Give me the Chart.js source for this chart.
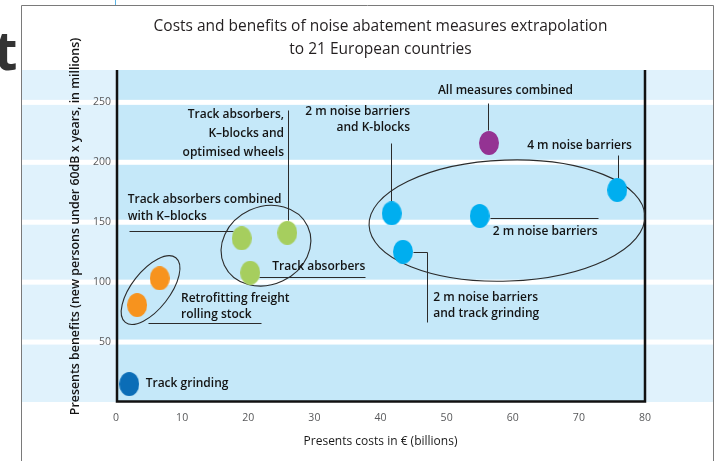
<!DOCTYPE html>
<html><head><meta charset="utf-8">
<script src="https://cdn.jsdelivr.net/npm/chart.js@4/dist/chart.umd.min.js"></script>
<style>html,body{margin:0;padding:0;background:#fff;}canvas{display:block;}</style>
</head><body>
<canvas id="c" width="716" height="461"></canvas>
<script>
// ---- Data ----
const titleLines = ["Costs and benefits of noise abatement measures extrapolation", "to 21 European countries"];
const xAxisTitle = "Presents costs in € (billions)";
const yAxisTitle = "Presents benefits (new persons under 60dB x years, in millions)";
const xTicks = [0, 10, 20, 30, 40, 50, 60, 70, 80];
const yTicks = [50, 100, 150, 200, 250];

const grindingCost = [2.0];
const grindingBenefit = [15.0];
const freightCost = [3.2, 6.6];
const freightBenefit = [80.9, 103.2];
const absorberCost = [19.0, 25.9, 20.3];
const absorberBenefit = [136.6, 141.2, 107.9];
const barrierCost = [41.7, 55.0, 75.8, 43.4];
const barrierBenefit = [157.4, 155.2, 176.9, 125.4];
const combinedCost = [56.4];
const combinedBenefit = [216.1];

// ---- Annotation text (positions in data units) ----
const labels = [
  {lines: ["All measures combined"], x: 58.9, y: 259.5, align: "center", gap: 16},
  {lines: ["2 m noise barriers", "and K-blocks"], x: 44.46, y: 241.9, align: "right", gap: 16},
  {lines: ["4 m noise barriers"], x: 70.1, y: 213.6, align: "center", gap: 16},
  {lines: ["2 m noise barriers"], x: 64.9, y: 142.1, align: "center", gap: 16},
  {lines: ["2 m noise barriers", "and track grinding"], x: 47.98, y: 87.4, align: "left", gap: 16.7},
  {lines: ["Track absorbers,", "K–blocks and", "optimised wheels"], x: 25.41, y: 239.4, align: "right", gap: 19},
  {lines: ["Track absorbers combined", "with K–blocks"], x: 1.77, y: 168.5, align: "left", gap: 16.7},
  {lines: ["Track absorbers"], x: 23.64, y: 112.9, align: "left", gap: 16},
  {lines: ["Retrofitting freight", "rolling stock"], x: 9.83, y: 86.5, align: "left", gap: 16},
  {lines: ["Track grinding"], x: 4.49, y: 15.0, align: "left", gap: 16}
];
const leaders = [
  [[56.3, 249.7], [56.3, 227.0]],
  [[41.63, 215.8], [41.63, 167.1]],
  [[75.96, 206.1], [75.96, 186.9]],
  [[56.56, 153.8], [72.94, 153.8]],
  [[44.91, 125.4], [46.99, 125.4], [46.99, 67.0]],
  [[25.97, 243.6], [25.97, 151.8]],
  [[2.0, 142.9], [17.65, 142.9]],
  [[21.67, 104.5], [37.66, 104.5]],
  [[4.88, 65.66], [21.88, 65.66]]
];
const groupRings = [
  {x: 5.23, y: 93.4, rx: 41, ry: 19, rot: -52},
  {x: 22.68, y: 130.4, rx: 46, ry: 39, rot: -25},
  {x: 59.13, y: 151.4, rx: 138, ry: 60.5, rot: -2}
];

// ---- Styling ----
const FONT = '"Open Sans", "Noto Sans", sans-serif';
function dot(color) {
  const c = document.createElement('canvas');
  c.width = 20; c.height = 24;
  const g = c.getContext('2d');
  g.fillStyle = color;
  g.beginPath();
  g.ellipse(10, 12, 10, 12, 0, 0, Math.PI * 2);
  g.fill();
  return c;
}
function pts(xs, ys) { return xs.map((x, i) => ({x: x, y: ys[i]})); }

const decor = {
  id: 'decor',
  beforeDraw(chart) {
    const ctx = chart.ctx, a = chart.chartArea, ys = chart.scales.y;
    ctx.save();
    ctx.fillStyle = '#ffffff';
    ctx.fillRect(0, 0, chart.width, chart.height);
    // page remnants
    ctx.fillStyle = '#333333';
    ctx.font = 'bold 54px ' + FONT;
    ctx.textBaseline = 'alphabetic';
    ctx.textAlign = 'left';
    ctx.fillText('t', -6, 70);
    ctx.strokeStyle = '#5bb4e5';
    ctx.lineWidth = 1;
    ctx.beginPath(); ctx.moveTo(115.5, 0); ctx.lineTo(115.5, 5); ctx.stroke();
    // frame
    ctx.strokeStyle = '#7a7a7a';
    ctx.lineWidth = 1;
    ctx.beginPath();
    ctx.moveTo(21.5, chart.height); ctx.lineTo(21.5, 5.5); ctx.lineTo(713.5, 5.5); ctx.lineTo(713.5, chart.height);
    ctx.stroke();
    // light band and plot area
    ctx.fillStyle = '#e0f2fc';
    ctx.fillRect(22, a.top, 691, a.bottom - a.top);
    ctx.fillStyle = '#c5e8f9';
    ctx.fillRect(a.left, a.top, a.right - a.left, a.bottom - a.top);
    // white gridlines
    ctx.fillStyle = '#ffffff';
    yTicks.forEach(v => {
      const y = ys.getPixelForValue(v);
      ctx.fillRect(22, y - 2.5, 691, 5);
    });
    // axis frame lines
    ctx.strokeStyle = '#111111';
    ctx.lineWidth = 2.5;
    ctx.beginPath();
    ctx.moveTo(a.left + 1, a.top); ctx.lineTo(a.left + 1, a.bottom - 0.5);
    ctx.lineTo(a.right, a.bottom - 0.5); ctx.lineTo(a.right, a.top);
    ctx.stroke();
    ctx.restore();
  },
  beforeDatasetsDraw(chart) {
    const ctx = chart.ctx, xs = chart.scales.x, ys = chart.scales.y;
    ctx.save();
    ctx.strokeStyle = '#2b2b2b';
    ctx.lineWidth = 1.1;
    groupRings.forEach(r => {
      ctx.beginPath();
      ctx.ellipse(xs.getPixelForValue(r.x), ys.getPixelForValue(r.y), r.rx, r.ry, r.rot * Math.PI / 180, 0, Math.PI * 2);
      ctx.stroke();
    });
    ctx.lineWidth = 1;
    leaders.forEach(l => {
      ctx.beginPath();
      l.forEach((p, i) => {
        const px = Math.round(xs.getPixelForValue(p[0])) + 0.5;
        const py = Math.round(ys.getPixelForValue(p[1])) + 0.5;
        if (i === 0) ctx.moveTo(px, py); else ctx.lineTo(px, py);
      });
      ctx.stroke();
    });
    ctx.restore();
  },
  afterDatasetsDraw(chart) {
    const ctx = chart.ctx, xs = chart.scales.x, ys = chart.scales.y;
    ctx.save();
    ctx.fillStyle = '#141414';
    ctx.font = '600 12px ' + FONT;
    ctx.textBaseline = 'middle';
    labels.forEach(l => {
      ctx.textAlign = l.align;
      const x = xs.getPixelForValue(l.x), y = ys.getPixelForValue(l.y);
      l.lines.forEach((t, i) => ctx.fillText(t, x, y + i * l.gap));
    });
    // y axis title
    ctx.translate(75, 226.5);
    ctx.rotate(-Math.PI / 2);
    ctx.textAlign = 'center';
    ctx.font = '600 12.4px ' + FONT;
    ctx.fillText(yAxisTitle, 0, 0);
    ctx.restore();
  }
};

new Chart(document.getElementById('c'), {
  type: 'scatter',
  data: {
    datasets: [
      {label: 'Track grinding', data: pts(grindingCost, grindingBenefit), pointStyle: dot('#0b6db7')},
      {label: 'Retrofitting freight rolling stock', data: pts(freightCost, freightBenefit), pointStyle: dot('#f7931e')},
      {label: 'Track absorbers / K–blocks', data: pts(absorberCost, absorberBenefit), pointStyle: dot('#a6ce5e')},
      {label: 'Noise barriers', data: pts(barrierCost, barrierBenefit), pointStyle: dot('#00aeef')},
      {label: 'All measures combined', data: pts(combinedCost, combinedBenefit), pointStyle: dot('#943393')}
    ]
  },
  options: {
    responsive: false,
    animation: false,
    devicePixelRatio: 1,
    layout: {padding: {left: 0, right: 71, top: 0, bottom: 0}},
    plugins: {
      legend: {display: false},
      tooltip: {enabled: false},
      title: {
        display: true, fullSize: false,
        text: titleLines,
        color: '#231f20',
        font: {family: FONT, size: 15.5, weight: 'normal', lineHeight: '23px'},
        padding: {top: 15.5, bottom: 8.5}
      }
    },
    scales: {
      x: {
        type: 'linear', min: 0, max: 80,
        afterBuildTicks: s => { s.ticks = xTicks.map(v => ({value: v})); },
        afterFit: s => { s.height = 59; },
        grid: {display: false, drawTicks: false},
        border: {display: false},
        ticks: {color: '#58595b', font: {family: FONT, size: 10.5}, padding: 10, maxRotation: 0},
        title: {display: true, text: xAxisTitle, color: '#1a1a1a', font: {family: FONT, size: 12, weight: '500'}, padding: {top: 0, bottom: 12}}
      },
      y: {
        type: 'linear', min: 0, max: 277,
        afterBuildTicks: s => { s.ticks = yTicks.map(v => ({value: v})); },
        afterFit: s => { s.width = 116; },
        grid: {display: false, drawTicks: false},
        border: {display: false},
        ticks: {color: '#58595b', font: {family: FONT, size: 10.5}, padding: 5}
      }
    }
  },
  plugins: [decor]
});
</script>
</body></html>
